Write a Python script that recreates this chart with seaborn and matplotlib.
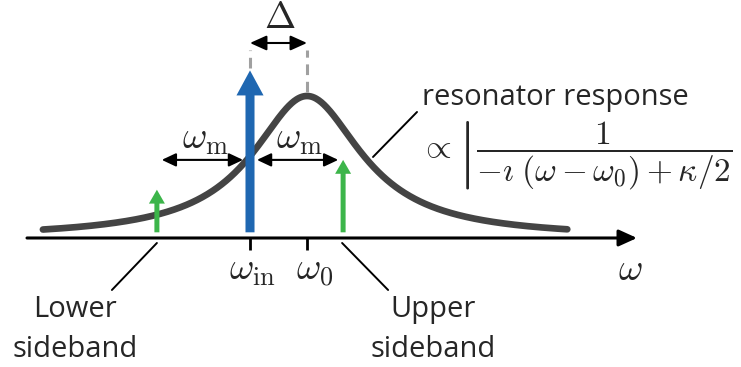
import numpy as np
import pandas as pd
import matplotlib
matplotlib.use("Agg")
import matplotlib.pyplot as plt
from matplotlib.patches import FancyArrowPatch
import seaborn as sns

# Frequencies (arbitrary units, resonance at omega_0)
omega_0 = 0.0
detuning = 3.0          # Delta = omega_0 - omega_in
omega_m = 4.9           # modulation frequency
kappa = 7.0             # resonator linewidth
span = [-13.9, 13.7]    # plotted range of omega - omega_0

# Tone amplitudes: pump, lower sideband, upper sideband
tone_names = ["pump", "lower", "upper"]
tone_amplitudes = [1.18, 0.34, 0.55]

omega_in = omega_0 - detuning
tone_freqs = [omega_in, omega_in - omega_m, omega_in + omega_m]

# Resonator response |chi|^2, normalised to its peak
w = np.linspace(omega_0 + span[0], omega_0 + span[1], 600)
chi = 1.0 / (-1j * (w - omega_0) + kappa / 2)
resp = np.abs(chi) ** 2 / np.abs(1.0 / (kappa / 2)) ** 2
df = pd.DataFrame({"omega": w, "response": resp})

sns.set_theme(style="white")
plt.rcParams["mathtext.fontset"] = "cm"
plt.rcParams["font.family"] = ["Open Sans", "DejaVu Sans"]

fig = plt.figure(figsize=(7.41, 3.67), dpi=100)
ax = fig.add_axes([0, 0, 1, 1])
ax.set_xlim(-16.158, 22.842)
ax.set_ylim(-0.9085, 1.676)
ax.axis("off")

sx = 1 / 19.0    # omega units per pixel
sy = 1 / 142.0   # response units per pixel

sns.lineplot(data=df, x="omega", y="response", ax=ax, color="#444444",
             lw=4.8, solid_capstyle="round", legend=False)

# frequency axis with arrow
ax.add_patch(FancyArrowPatch((omega_0 - 280 * sx, 0), (omega_0 + 330 * sx, 0),
                             arrowstyle="-|>,head_length=11,head_width=5",
                             mutation_scale=1, color="black", lw=2.2,
                             shrinkA=0, shrinkB=0, zorder=3))

# ticks at omega_in and omega_0
for f in (omega_in, omega_0):
    ax.plot([f, f], [0, -12 * sy], color="black", lw=2.0, solid_capstyle="butt")

# tones
base = 0.04
tone_colors = {"pump": "#1f67b1", "lower": "#3cb54a", "upper": "#3cb54a"}
styles = {"pump": "simple,head_length=18,head_width=19.5,tail_width=6.5",
          "lower": "simple,head_length=10,head_width=11.5,tail_width=3.6",
          "upper": "simple,head_length=10,head_width=11.5,tail_width=3.6"}
for name, f, a in zip(tone_names, tone_freqs, tone_amplitudes):
    ax.add_patch(FancyArrowPatch((f, base), (f, a), arrowstyle=styles[name],
                                 mutation_scale=1, color=tone_colors[name],
                                 lw=0, shrinkA=0, shrinkB=0, zorder=4))

# omega_m double arrows
y_m = tone_amplitudes[2]
for a0, a1 in ((tone_freqs[1], omega_in), (tone_freqs[2], omega_in)):
    ax.add_patch(FancyArrowPatch((a0, y_m), (a1, y_m),
                                 arrowstyle="<|-|>,head_length=8.5,head_width=4",
                                 mutation_scale=1, color="black", lw=1.5,
                                 shrinkA=3.5, shrinkB=5, zorder=5))

# Delta arrow and dashed guides
y_d = 195 * sy
ax.add_patch(FancyArrowPatch((omega_in, y_d), (omega_0, y_d),
                             arrowstyle="<|-|>,head_length=10,head_width=4.5",
                             mutation_scale=1, color="black", lw=1.5,
                             shrinkA=0, shrinkB=0, zorder=5))
guide = dict(color="#a0a0a0", lw=2.2, ls=(0, (3.5, 2.2)))
ax.plot([omega_in, omega_in], [tone_amplitudes[0] + 2 * sy, 188 * sy], **guide)
ax.plot([omega_0, omega_0], [1.0 + 4 * sy, 188 * sy], **guide)

# math labels
mfs = 27
ax.text(omega_in + 30 * sx, 210 * sy, r"$\Delta$", fontsize=mfs, ha="center", va="baseline")
ax.text(omega_in - 45 * sx, 89 * sy, r"$\omega_{\rm m}$", fontsize=mfs, ha="center", va="baseline")
ax.text(omega_in + 49 * sx, 89 * sy, r"$\omega_{\rm m}$", fontsize=mfs, ha="center", va="baseline")
ax.text(omega_in + 2 * sx, -42 * sy, r"$\omega_{\rm in}$", fontsize=mfs, ha="center", va="baseline")
ax.text(omega_0 + 8 * sx, -42 * sy, r"$\omega_0$", fontsize=mfs, ha="center", va="baseline")
ax.text(omega_0 + 323 * sx, -42 * sy, r"$\omega$", fontsize=mfs, ha="center", va="baseline")

# resonator response label and formula
ax.plot([omega_0 + 66 * sx, omega_0 + 110 * sx], [81 * sy, 126 * sy], color="black", lw=1.4)
ax.text(omega_0 + 115 * sx, 133 * sy, "resonator response", fontsize=21, ha="left", va="baseline")
ax.text(omega_0 + 113 * sx, 83 * sy,
        r"$\propto\left|\dfrac{1}{-\imath\;(\omega-\omega_0)+\kappa/2}\right.$",
        fontsize=24, ha="left", va="center")

# sideband labels
lo, up = tone_freqs[1], tone_freqs[2]
ax.plot([lo, lo - 45 * sx], [-5 * sy, -52 * sy], color="black", lw=1.4)
ax.plot([up - 1 * sx, up + 45 * sx], [-5 * sy, -52 * sy], color="black", lw=1.4)
ax.text(lo - 82 * sx, -79 * sy, "Lower", fontsize=21, ha="center", va="baseline")
ax.text(lo - 82 * sx, -119 * sy, "sideband", fontsize=21, ha="center", va="baseline")
ax.text(up + 90 * sx, -79 * sy, "Upper", fontsize=21, ha="center", va="baseline")
ax.text(up + 90 * sx, -119 * sy, "sideband", fontsize=21, ha="center", va="baseline")

fig.savefig("out.png", dpi=100)
